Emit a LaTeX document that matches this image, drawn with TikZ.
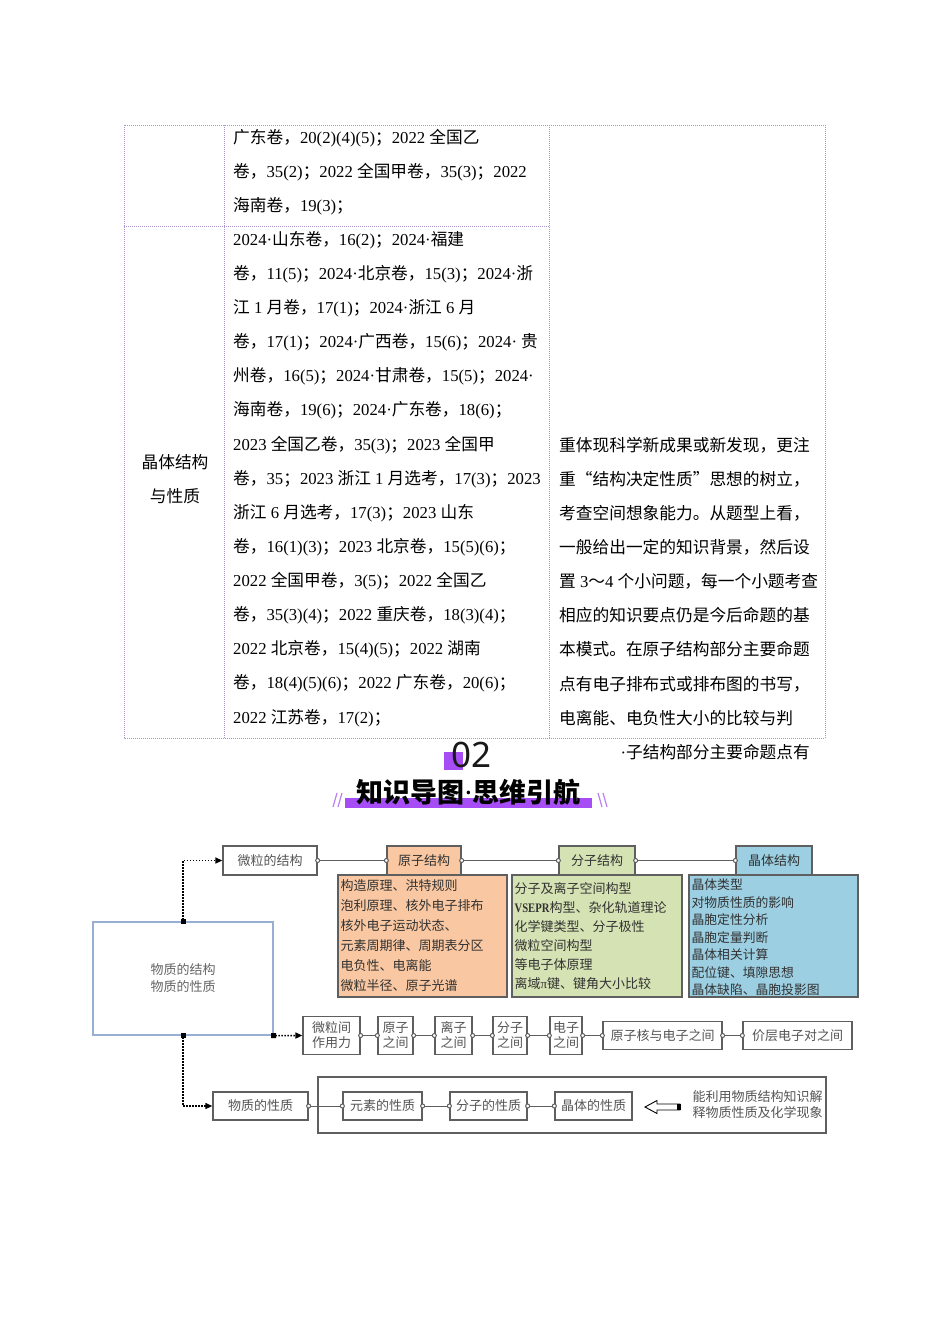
\documentclass[tikz,border=0pt]{standalone}
\usepackage{fontspec}
\usepackage{graphicx}
\setmainfont{Liberation Serif}
\newfontfamily\cjk{Noto Sans CJK SC}
\newfontfamily\numfont{Noto Sans}
\usetikzlibrary{arrows.meta}
\XeTeXinterchartokenstate=1
\newXeTeXintercharclass\cjkcls
\makeatletter
\def\setclsrange#1#2#3{\count@=#1\relax\loop\ifnum\count@<#2\relax\XeTeXcharclass\count@=#3\relax\advance\count@ by 1\relax\repeat}
\setclsrange{"20}{"7F}{0}
\setclsrange{"A0}{"250}{0}
\setclsrange{"370}{"400}{0}
\setclsrange{"3000}{"3040}{\cjkcls}
\setclsrange{"4E00}{"A000}{\cjkcls}
\setclsrange{"FF00}{"FFF0}{\cjkcls}
\makeatother
\XeTeXcharclass"201C=\cjkcls
\XeTeXcharclass"201D=\cjkcls
\def\cjkswitch{\cjk}
\def\latswitch{\rmfamily}
\XeTeXinterchartoks 0 \cjkcls = {\cjkswitch}
\XeTeXinterchartoks 4095 \cjkcls = {\cjkswitch}
\XeTeXinterchartoks \cjkcls 0 = {\latswitch}
\XeTeXinterchartoks \cjkcls 4095 = {\latswitch}
\definecolor{tblc}{RGB}{170,150,205}
\definecolor{purp}{RGB}{166,77,245}
\definecolor{purl}{RGB}{190,130,240}
\definecolor{orf}{RGB}{249,200,162}
\definecolor{grf}{RGB}{213,227,180}
\definecolor{blf}{RGB}{156,207,226}
\definecolor{gbc}{RGB}{95,95,95}
\definecolor{gtc}{RGB}{85,85,85}
\definecolor{ctc}{RGB}{50,50,50}
\definecolor{bbc}{RGB}{150,175,210}
\tikzset{
  tline/.style={anchor=base west, inner sep=0pt, font=\fontsize{16.7}{20}\selectfont, text=black},
  tbl/.style={draw=tblc, line width=0.7pt, dash pattern=on 1pt off 1pt},
  gbox/.style={draw=gbc, line width=1.3pt, fill=white, text=gtc, font=\fontsize{13}{15}\selectfont, inner sep=0pt, align=center, minimum height=28pt},
  hdr/.style={gbox, minimum height=29pt, text=ctc},
  cbox/.style={draw=gbc, line width=1.2pt, inner sep=0pt, minimum height=122pt},
  ctext/.style={anchor=west, inner xsep=3pt, inner ysep=0pt, align=left, text=ctc},
  conn/.style={draw=gbc, line width=1pt, {Circle[length=5pt,width=5pt,fill=white]}-{Circle[length=5pt,width=5pt,fill=white]}, shorten <=-2.5pt, shorten >=-2.5pt},
  darrow/.style={draw=black, line width=1.5pt, dash pattern=on 1.5pt off 1.5pt, {Square[length=5pt,width=5pt]}-{Triangle[length=7pt,width=6pt]}, shorten <=-2.5pt}
}
\begin{document}
\begin{tikzpicture}[x=1pt,y=-1pt]
\fill[white] (0,0) rectangle (950,1344);
\useasboundingbox (0,0) rectangle (950,1344);
% ---------- table ----------
\draw[tbl] (124,125) rectangle (825,738);
\draw[tbl] (224,125) -- (224,738);
\draw[tbl] (549,125) -- (549,738);
\draw[tbl] (124,226) -- (549,226);
\foreach \t [count=\i from 0] in {广东卷，20(2)(4)(5)；2022 全国乙,卷，35(2)；2022 全国甲卷，35(3)；2022,海南卷，19(3)；}
  \node[tline] (ra\i) at (233,143.3+34.1*\i) {\t};
\foreach \t [count=\i from 0] in {2024·山东卷，16(2)；2024·福建,
卷，11(5)；2024·北京卷，15(3)；2024·浙,
江 1 月卷，17(1)；2024·浙江 6 月,
卷，17(1)；2024·广西卷，15(6)；2024· 贵,
州卷，16(5)；2024·甘肃卷，15(5)；2024·,
海南卷，19(6)；2024·广东卷，18(6)；,
2023 全国乙卷，35(3)；2023 全国甲,
卷，35；2023 浙江 1 月选考，17(3)；2023,
浙江 6 月选考，17(3)；2023 山东,
卷，16(1)(3)；2023 北京卷，15(5)(6)；,
2022 全国甲卷，3(5)；2022 全国乙,
卷，35(3)(4)；2022 重庆卷，18(3)(4)；,
2022 北京卷，15(4)(5)；2022 湖南,
卷，18(4)(5)(6)；2022 广东卷，20(6)；,
2022 江苏卷，17(2)；}
  \node[tline] (rb\i) at (233,245.3+34.13*\i) {\t};
\foreach \t [count=\i from 0] in {重体现科学新成果或新发现，更注,
重“结构决定性质”思想的树立，,
考查空间想象能力。从题型上看，,
一般给出一定的知识背景，然后设,
置 3～4 个小问题，每一个小题考查,
相应的知识要点仍是今后命题的基,
本模式。在原子结构部分主要命题,
点有电子排布式或排布图的书写，,
电离能、电负性大小的比较与判}
  \node[tline] (rc\i) at (559,451.3+34.1*\i) {\t};
\node[tline, anchor=base] (c1a) at (175,468.3) {晶体结构};
\node[tline, anchor=base] (c1b) at (175,502.3) {与性质};
\node[tline, anchor=base east] (ovf) at (810,758.3) {·子结构部分主要命题点有};
% ---------- header ----------
\fill[purp] (444,752) rectangle (463,770);
\node[anchor=base, inner sep=0pt, font=\numfont\fontsize{35}{35}\selectfont, text={rgb,255:red,25;green,25;blue,25}] (num) at (471.5,767) {02};
\fill[purp] (345,798) rectangle (592,808);
\node[inner sep=0pt, font={\def\latswitch{\numfont}\fontsize{27}{27}\selectfont\cjk\bfseries}, text=black] (ttl) at (468.5,792.5) {知识导图·思维引航};
\draw[purl, line width=1.2pt] (333,807) -- (337,793) (338,807) -- (342,793);
\draw[purl, line width=1.2pt] (598,793) -- (602,807) (603,793) -- (607,807);
% ---------- diagram ----------
\node[draw=bbc, line width=1.2pt, minimum width=180pt, minimum height=113pt, inner sep=0pt, align=center, text={rgb,255:red,100;green,100;blue,100}, font=\fontsize{13}{17}\selectfont] (big) at (183,978.5) {物质的结构\\物质的性质};
\node[gbox, minimum width=94pt, minimum height=29pt] (wlj) at (270,860.5) {微粒的结构};
% content boxes
\node[cbox, fill=orf, minimum width=169pt] (yzc) at (422.5,936) {};
\node[ctext, font=\fontsize{13}{20}\selectfont] (yzt) at (yzc.west) {构造原理、洪特规则\\泡利原理、核外电子排布\\核外电子运动状态、\\元素周期律、周期表分区\\电负性、电离能\\微粒半径、原子光谱};
\node[cbox, fill=grf, minimum width=170pt] (fzc) at (597,936) {};
\node[ctext, font=\fontsize{13}{19}\selectfont] (fzt) at (fzc.west) {分子及离子空间构型\\{\bfseries\scalebox{0.82}[1]{VSEPR}}构型、杂化轨道理论\\化学键类型、分子极性\\微粒空间构型\\等电子体原理\\离域π键、键角大小比较};
\node[cbox, fill=blf, minimum width=169pt] (jtc) at (773.5,936) {};
\node[ctext, font=\fontsize{12.8}{17.5}\selectfont] (jtt) at ([yshift=-1.5pt]jtc.west) {晶体类型\\对物质性质的影响\\晶胞定性分析\\晶胞定量判断\\晶体相关计算\\配位键、填隙思想\\晶体缺陷、晶胞投影图};
% headers
\node[hdr, fill=orf, minimum width=74pt] (yzh) at (424,860.5) {原子结构};
\node[hdr, fill=grf, minimum width=76pt] (fzh) at (597,860.5) {分子结构};
\node[hdr, fill=blf, minimum width=76pt] (jth) at (774,860.5) {晶体结构};
\draw[conn] (wlj.east) -- (yzh.west);
\draw[conn] (yzh.east) -- (fzh.west);
\draw[conn] (fzh.east) -- (jth.west);
% row 2
\node[gbox, minimum width=57pt, minimum height=38pt] (wlz) at (331.5,1035.5) {微粒间\\作用力};
\node[gbox, minimum width=35pt, minimum height=38pt] (yzj) at (395.5,1035.5) {原子\\之间};
\node[gbox, minimum width=37pt, minimum height=38pt] (lzj) at (453.5,1035.5) {离子\\之间};
\node[gbox, minimum width=34pt, minimum height=38pt] (fzj) at (510,1035.5) {分子\\之间};
\node[gbox, minimum width=32pt, minimum height=38pt] (dzj) at (566,1035.5) {电子\\之间};
\node[gbox, minimum width=119pt] (hdz) at (662.5,1035.5) {原子核与电子之间};
\node[gbox, minimum width=109pt] (jcd) at (797.5,1035.5) {价层电子对之间};
\draw[conn] (wlz.east) -- (yzj.west);
\draw[conn] (yzj.east) -- (lzj.west);
\draw[conn] (lzj.east) -- (fzj.west);
\draw[conn] (fzj.east) -- (dzj.west);
\draw[conn] (dzj.east) -- (hdz.west);
\draw[conn] (hdz.east) -- (jcd.west);
% row 3
\node[draw=gbc, line width=1.3pt, minimum width=508pt, minimum height=56pt, inner sep=0pt] (outer) at (572,1105) {};
\node[gbox, minimum width=95pt] (wxz) at (260.5,1106) {物质的性质};
\node[gbox, minimum width=79pt] (ysx) at (382.5,1106) {元素的性质};
\node[gbox, minimum width=77pt] (fsx) at (488.5,1106) {分子的性质};
\node[gbox, minimum width=77pt] (jsx) at (593.5,1106) {晶体的性质};
\draw[conn] (wxz.east) -- (ysx.west);
\draw[conn] (ysx.east) -- (fsx.west);
\draw[conn] (fsx.east) -- (jsx.west);
\draw[line width=0.9pt, fill=white] (645,1107) -- (657,1100.5) -- (657,1104) -- (680,1104) -- (680,1110) -- (657,1110) -- (657,1113.5) -- cycle;
\fill (677,1104) rectangle (681,1110);
\node[inner sep=0pt, align=center, text=gtc, font=\fontsize{13}{16}\selectfont] (note) at (757.5,1105) {能利用物质结构知识解\\释物质性质及化学现象};
% dotted arrows
\draw[darrow] (big.north) |- (wlj.west);
\draw[darrow] (big.south east) -- (wlz.west);
\draw[darrow] (big.south) |- (wxz.west);
\end{tikzpicture}
\end{document}
